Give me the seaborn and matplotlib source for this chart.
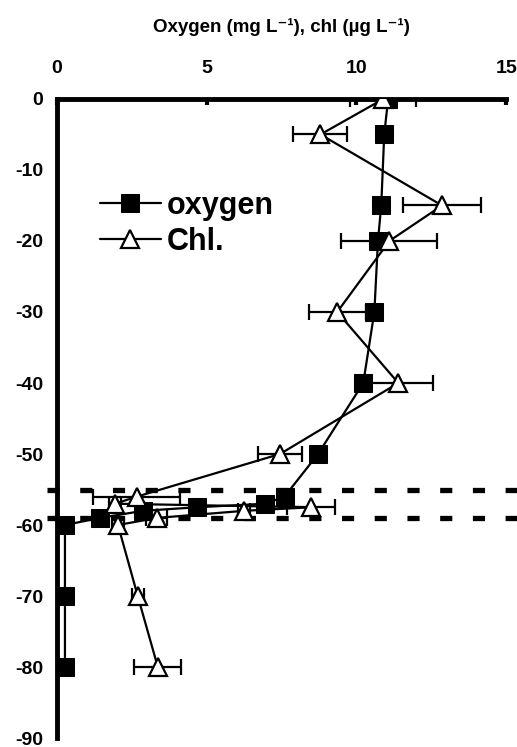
import numpy as np
import pandas as pd
import matplotlib
matplotlib.use("Agg")
import matplotlib.pyplot as plt
import seaborn as sns

# ---- data ----
oxy_depth = [0, -5, -15, -20, -30, -40, -50, -56, -57, -57.5, -58, -59, -60, -70, -80]
oxy_value = [11.06, 10.93, 10.83, 10.72, 10.6, 10.23, 8.72, 7.6, 6.95, 4.68, 2.88, 1.44, 0.27, 0.27, 0.27]

chl_depth = [0, -5, -15, -20, -30, -40, -50, -56, -57, -57.5, -58, -59, -60, -70, -80]
chl_value = [10.9, 8.8, 12.86, 11.1, 9.36, 11.4, 7.45, 2.67, 1.94, 8.5, 6.25, 3.34, 2.04, 2.7, 3.37]
chl_err = [1.1, 0.9, 1.3, 1.6, 0.95, 1.15, 0.75, 1.45, 0.2, 0.8, 0.2, 0.35, 0.2, 0.2, 0.78]

ref_depths = [-55, -59]
x_ticks = [0, 5, 10, 15]
y_ticks = [0, -10, -20, -30, -40, -50, -60, -70, -80, -90]

sns.set_style("white")
plt.rcParams['font.family'] = ['Liberation Sans', 'DejaVu Sans']
plt.rcParams['font.weight'] = 'bold'
plt.rcParams['text.color'] = 'black'
plt.rcParams['xtick.color'] = 'black'
plt.rcParams['ytick.color'] = 'black'
plt.rcParams['axes.labelcolor'] = 'black'

fig = plt.figure(figsize=(5.17, 7.47), dpi=100)
ax = fig.add_axes([0.110, 0.012, 0.869, 0.8555])

oxy = pd.DataFrame({"depth": oxy_depth, "value": oxy_value})
chl = pd.DataFrame({"depth": chl_depth, "value": chl_value, "err": chl_err})

# reference dashed lines
for d in ref_depths:
    ax.axhline(d, xmin=-0.022, xmax=1.03, color='black', lw=3.8,
               dashes=(2.3, 3.9), clip_on=False, zorder=1)

sns.lineplot(data=oxy, x="value", y="depth", sort=False, estimator=None,
             color='black', lw=1.6, marker='s', markersize=13.5,
             markerfacecolor='black', markeredgecolor='black',
             ax=ax, label='oxygen', zorder=3)

ax.errorbar(chl["value"], chl["depth"], xerr=chl["err"], fmt='none',
            ecolor='black', elinewidth=1.6, capsize=6, capthick=1.6, zorder=4)

sns.lineplot(data=chl, x="value", y="depth", sort=False, estimator=None,
             color='black', lw=1.6, marker='^', markersize=13,
             markerfacecolor='white', markeredgecolor='black', markeredgewidth=1.6,
             ax=ax, label='Chl.', zorder=5)

ax.set_xlim(0, 15)
ax.set_ylim(-90, 0)
ax.set_xticks(x_ticks)
ax.set_yticks(y_ticks)
ax.set_xticklabels([str(t) for t in x_ticks], fontsize=14, fontweight='bold')
ax.set_yticklabels([str(t) for t in y_ticks], fontsize=14, fontweight='bold')
ax.xaxis.tick_top()
ax.xaxis.set_label_position('top')
ax.set_xlabel('Oxygen (mg L\u207b\u00b9), chl (\u00b5g L\u207b\u00b9)',
              fontsize=13.5, fontweight='bold', labelpad=20)
ax.set_ylabel('')
ax.tick_params(axis='x', direction='in', length=4, width=3, pad=16)
ax.tick_params(axis='y', direction='out', length=4, width=3, pad=6)

for s in ['right', 'bottom']:
    ax.spines[s].set_visible(False)
for s in ['left', 'top']:
    ax.spines[s].set_linewidth(3.5)
    ax.spines[s].set_color('black')
    ax.spines[s].set_zorder(2)

leg = ax.legend(loc='upper left', bbox_to_anchor=(0.068, 0.875), frameon=False,
                prop={'weight': 'bold', 'size': 22}, handlelength=2.0,
                handletextpad=0.2, labelspacing=0.2, borderaxespad=0)
for t in leg.get_texts():
    t.set_color('black')

fig.savefig('out.png', dpi=100)
